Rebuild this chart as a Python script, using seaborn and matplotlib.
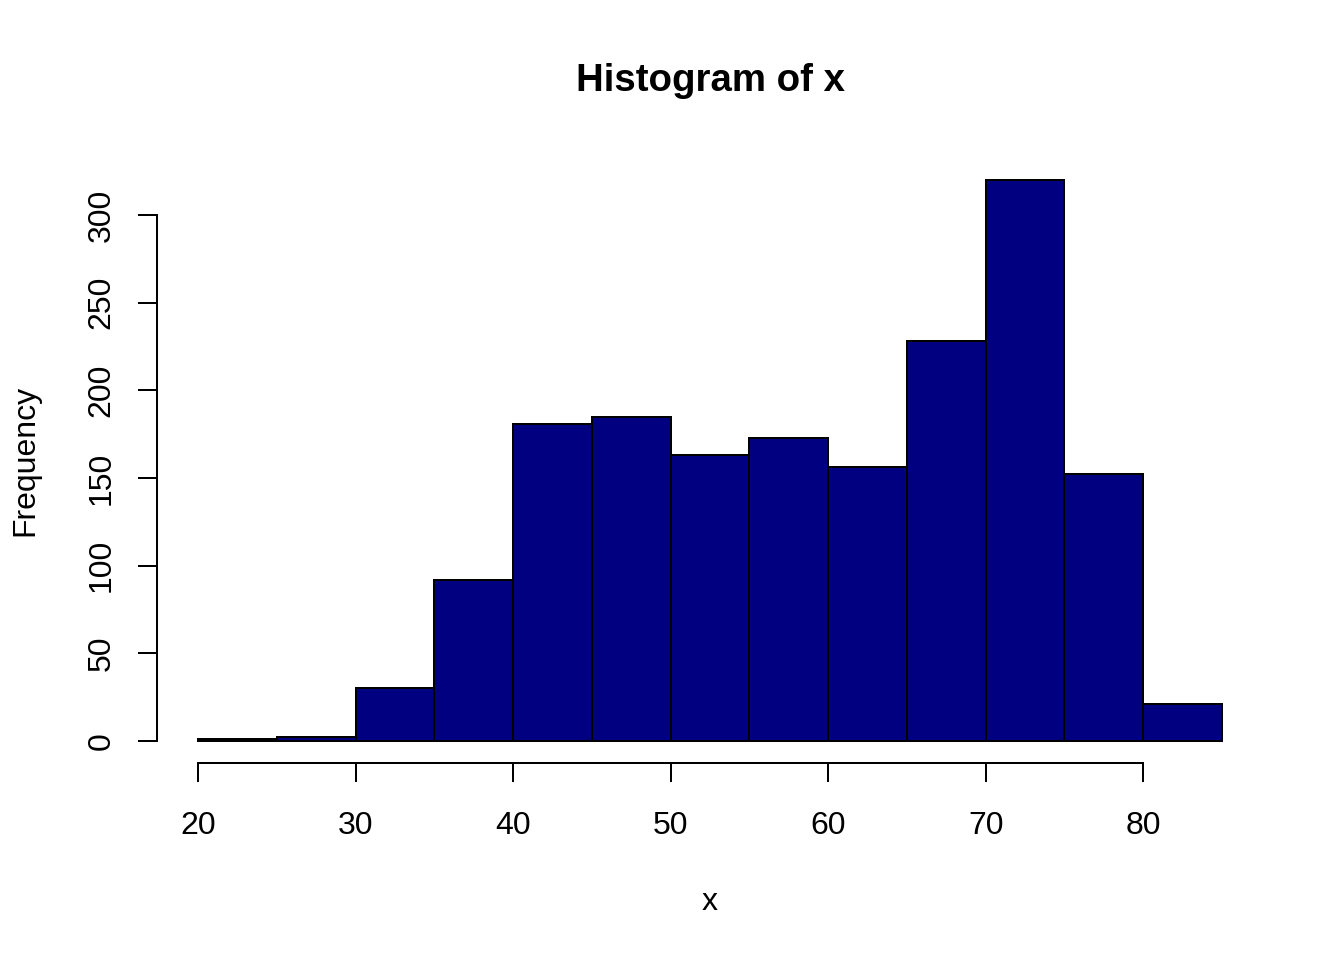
import numpy as np
import pandas as pd
import matplotlib
matplotlib.use("Agg")
import matplotlib.pyplot as plt
import seaborn as sns

bin_edges = [20, 25, 30, 35, 40, 45, 50, 55, 60, 65, 70, 75, 80, 85]
counts = [1, 2, 30, 92, 181, 185, 163, 173, 156, 228, 320, 152, 21]
x_ticks = [20, 30, 40, 50, 60, 70, 80]
y_ticks = [0, 50, 100, 150, 200, 250, 300]

sns.set_theme(style="white")
plt.rcParams['font.family'] = ['Liberation Sans', 'DejaVu Sans']

centers = [(a + b) / 2 for a, b in zip(bin_edges[:-1], bin_edges[1:])]
df = pd.DataFrame({"x": centers, "w": counts})

fig = plt.figure(figsize=(7, 5), dpi=192)
ax = fig.add_axes([157 / 1344, 1 - 763.4 / 960, (1263 - 157) / 1344, (763.4 - 157.5) / 960])

sns.histplot(data=df, x="x", weights="w", bins=bin_edges, ax=ax,
             color="#000080", alpha=1, edgecolor="black", linewidth=0.75)

ax.set_xlim(17.4, 87.6)
ax.set_ylim(-12.8, 332.8)
for s in ["top", "right"]:
    ax.spines[s].set_visible(False)
ax.spines["left"].set_bounds(0, 300)
ax.spines["bottom"].set_bounds(20, 80)
for s in ["left", "bottom"]:
    ax.spines[s].set_color("black")
    ax.spines[s].set_linewidth(0.75)
ax.set_xticks(x_ticks)
ax.set_yticks(y_ticks)
ax.tick_params(axis="both", direction="out", length=7.2, width=0.75, color="black",
               labelsize=12, labelcolor="black", bottom=True, left=True)
ax.tick_params(axis="x", pad=10.5)
ax.tick_params(axis="y", pad=8)
for lab in ax.get_yticklabels():
    lab.set_rotation(90)
    lab.set_va("center")

ax.set_xlabel("x", fontsize=12, color="black")
ax.set_ylabel("Frequency", fontsize=12, color="black")
ax.xaxis.set_label_coords(0.5, -(902 - 763.4) / (763.4 - 157.5), transform=ax.transAxes)
ax.yaxis.set_label_coords(-(157 - 25) / (1263 - 157), 0.5, transform=ax.transAxes)
ax.xaxis.label.set_va("center")
ax.yaxis.label.set_va("center")

fig.text(710 / 1344, 1 - 81 / 960, "Histogram of x", ha="center", va="center",
         fontsize=14.4, fontweight="bold", color="black")

fig.savefig("out.png", dpi=192, facecolor="white")
